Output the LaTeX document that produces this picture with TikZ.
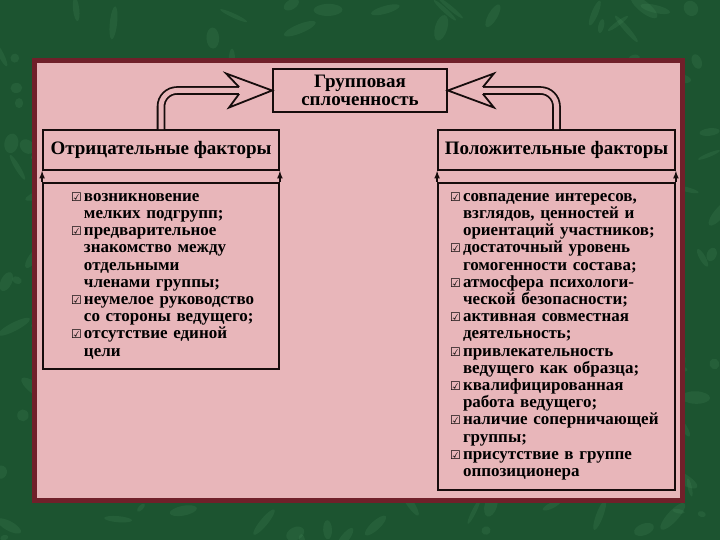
\documentclass[tikz,border=0pt]{standalone}
\usepackage{fontspec}
\setmainfont{Liberation Serif}
\newfontfamily\symfont{DejaVu Sans}
\usetikzlibrary{arrows}
\usetikzlibrary{positioning}
\definecolor{marble}{RGB}{28,84,48}
\definecolor{vein}{RGB}{80,150,100}
\definecolor{frame}{RGB}{112,32,42}
\definecolor{rose}{RGB}{232,182,186}
\definecolor{ink}{RGB}{22,12,12}
\tikzstyle{titlebox}	= [rectangle, minimum width=174pt, minimum height=43pt, align=center, draw=ink, line width=1.8pt, font=\bfseries\fontsize{19}{18}\selectfont]
\tikzstyle{headbox}		= [rectangle, minimum width=236pt, minimum height=40pt, draw=ink, line width=1.8pt, font=\bfseries\fontsize{19}{19}\selectfont]
\tikzstyle{listbox}		= [rectangle, inner xsep=2pt, align=left, draw=ink, line width=1.8pt, font=\bfseries\fontsize{17}{17.2}\selectfont]
\tikzstyle{hollow}		= [draw=ink, line width=1.8pt, double=rose, double distance=5pt, rounded corners=16pt]
\tikzstyle{arrowhead}	= [draw=ink, fill=rose, line width=1.8pt, line join=miter]
\tikzstyle{arrow} = [ink, line width=1.6pt, -latex]
\newcommand{\chk}{\leavevmode\llap{{\symfont\fontsize{12}{12}\selectfont ☑}\hspace{2pt}}}

\begin{document}
\begin{tikzpicture}[x=1pt,y=-1pt]
	\useasboundingbox (0,0) rectangle (720,540);
	\fill[marble] (0,0) rectangle (720,540);
	% marble texture
	\begin{scope}
	\clip (0,0) rectangle (720,540);
	\pgfmathsetseed{11}
	\foreach \i in {1,...,260}{
		\pgfmathsetmacro{\vx}{rnd*720}
		\pgfmathsetmacro{\vy}{rnd*540}
		\pgfmathsetmacro{\va}{rnd*180}
		\fill[vein, opacity=0.18, shift={(\vx,\vy)}, rotate=\va] (0,0) ellipse ({4+rnd*14} and {2+rnd*5});
	}
	\end{scope}
	\draw[frame, line width=5pt, fill=rose] (34.5,60.5) rectangle (682.5,500.5);

	\node (title) [titlebox] at (360,90.5) {Групповая\\сплоченность};
	\node (neghead) [headbox] at (161,150) {Отрицательные факторы};
	\node (poshead) [headbox, minimum width=237pt] at (556.5,150) {Положительные факторы};
	\node (neglist) [listbox, below=11pt of neghead, text width=232pt, minimum height=186pt] {\leftskip=39pt
		\chk возникновение\\
		мелких подгрупп;\\
		\chk предварительное\\
		знакомство между\\
		отдельными\\
		членами группы;\\
		\chk неумелое руководство\\
		со стороны ведущего;\\
		\chk отсутствие единой\\
		цели\par};
	\node (poslist) [listbox, below=11pt of poshead, text width=233pt, minimum height=307pt] {\leftskip=23pt
		\chk совпадение интересов,\\
		взглядов, ценностей и\\
		ориентаций участников;\\
		\chk достаточный уровень\\
		гомогенности состава;\\
		\chk атмосфера психологи-\\
		ческой безопасности;\\
		\chk активная совместная\\
		деятельность;\\
		\chk привлекательность\\
		ведущего как образца;\\
		\chk квалифицированная\\
		работа ведущего;\\
		\chk наличие соперничающей\\
		группы;\\
		\chk присутствие в группе\\
		оппозиционера\par};

	% hollow arrows to the title
	\draw [hollow] (neghead.north) |- ([xshift=-33pt]title.west);
	\draw [arrowhead] ([shift={(-33,-3.4)}]title.west) -- ++(-13,-13.6) -- (title.west) -- ([shift={(-43,17)}]title.west) -- ([shift={(-33,3.4)}]title.west);
	\draw [hollow] (poshead.north) |- ([xshift=35pt]title.east);
	\draw [arrowhead] ([shift={(35,-3.4)}]title.east) -- ++(11,-13.6) -- (title.east) -- ([shift={(46,17)}]title.east) -- ([shift={(35,3.4)}]title.east);

	\draw [arrow] (neglist.north west) -- (neghead.south west);
	\draw [arrow] (neglist.north east) -- (neghead.south east);
	\draw [arrow] (poslist.north west) -- (poshead.south west);
	\draw [arrow] (poslist.north east) -- (poshead.south east);
\end{tikzpicture}
\end{document}
